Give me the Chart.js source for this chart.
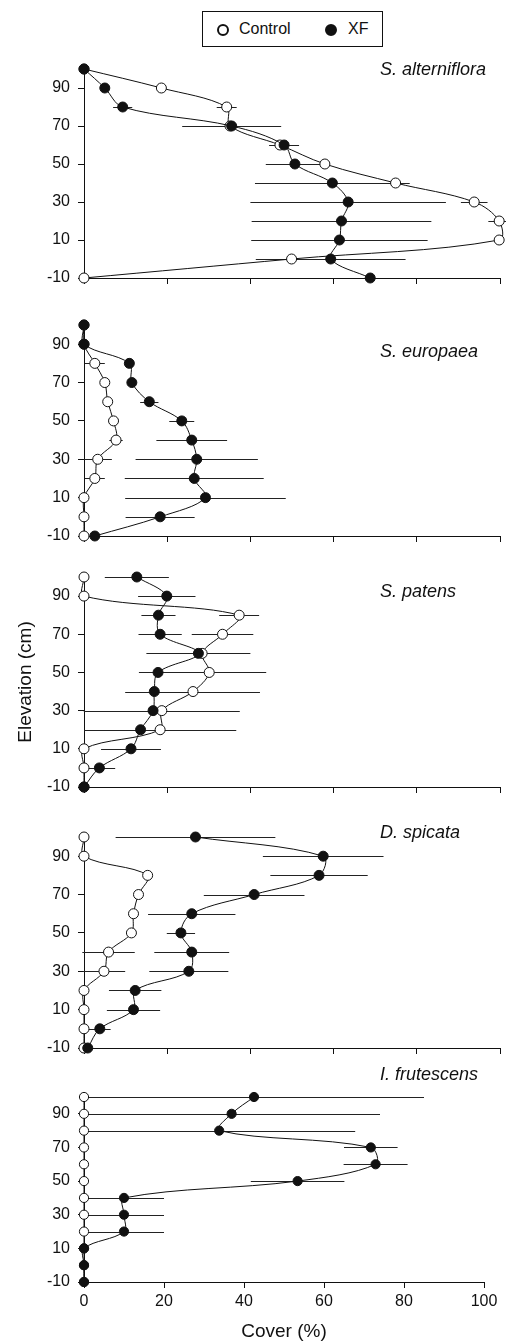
<!DOCTYPE html>
<html>
<head>
<meta charset="utf-8">
<title>Cover by elevation</title>
<script src="https://cdn.jsdelivr.net/npm/chart.js@4.4.1/dist/chart.umd.min.js"></script>
<style>
	html, body { margin: 0; padding: 0; background: #fff; }
	#fig { position: relative; width: 506px; height: 1343px; overflow: hidden;
		font-family: 'Liberation Sans', Arial, Helvetica, sans-serif; color: #111; }
	#fig canvas { position: absolute; left: 0; }
	.legend { position: absolute; left: 202px; top: 11px; width: 181px; height: 36px;
		border: 1px solid #111; box-sizing: border-box; font-size: 16px; }
	.legend .mk { position: absolute; top: 12px; width: 12px; height: 12px; box-sizing: border-box;
		border: 2px solid #111; border-radius: 50%; }
	.legend .open { background: #fff; }
	.legend .fill { background: #111; }
	.legend .lbl { position: absolute; top: 8px; line-height: 18px; white-space: nowrap; }
</style>
</head>
<body>
<div id="fig">
	<div class="legend">
		<span class="mk open" style="left:14px"></span><span class="lbl" style="left:36px">Control</span>
		<span class="mk fill" style="left:122px"></span><span class="lbl" style="left:145px">XF</span>
	</div>
</div>
<script>
'use strict';

// elevation levels, top to bottom
const elevations = [100, 90, 80, 70, 60, 50, 40, 30, 20, 10, 0, -10];
const yTicks = [-10, 10, 30, 50, 70, 90];
const xTicks = [0, 20, 40, 60, 80, 100];
const species = ['S. alterniflora', 'S. europaea', 'S. patens', 'D. spicata', 'I. frutescens'];

// mean cover (%) and SE at each elevation
const altControl   = [0, 18.6, 34.3, 35.1, 47.1, 57.9, 74.9, 93.8, 99.8, 99.8, 49.9, 0];
const altControlSE = [0, 0, 2.4, 0, 0, 0, 0, 3.2, 2.6, 0, 0, 0];
const altXF        = [0, 5.0, 9.3, 35.5, 48.1, 50.7, 59.7, 63.5, 61.9, 61.4, 59.3, 68.8];
const altXFSE      = [0, 0, 2.3, 11.9, 3.6, 7.0, 18.6, 23.5, 21.6, 21.2, 18.0, 0];

const eurControl   = [0, 0, 2.6, 5.0, 5.7, 7.1, 7.7, 3.3, 2.6, 0, 0, 0];
const eurControlSE = [0, 0, 2.4, 0, 0, 0, 1.6, 3.4, 2.4, 0, 0, 0];
const eurXF        = [0, 0, 10.9, 11.5, 15.7, 23.5, 25.9, 27.1, 26.5, 29.2, 18.3, 2.6];
const eurXFSE      = [0, 0, 0, 0, 2.2, 3.0, 8.5, 14.7, 16.7, 19.3, 8.3, 0];

const patControl   = [0, 0, 37.3, 33.3, 28.4, 30.1, 26.2, 18.7, 18.3, 0, 0, 0];
const patControlSE = [0, 0, 4.8, 7.4, 10.0, 13.7, 16.1, 18.75, 18.3, 0, 0, 0];
const patXF        = [12.7, 19.9, 17.9, 18.3, 27.5, 17.8, 16.9, 16.6, 13.6, 11.3, 3.7, 0];
const patXFSE      = [7.7, 6.9, 4.1, 5.2, 12.5, 4.6, 7.0, 6.6, 6.0, 7.2, 3.8, 0];

const spiControl   = [0, 0, 15.3, 13.1, 11.9, 11.4, 5.9, 4.8, 0, 0, 0, 0];
const spiControlSE = [0, 0, 0, 0, 0, 1.1, 6.3, 5.1, 0, 0, 0, 0];
const spiXF        = [26.8, 57.5, 56.5, 40.9, 25.9, 23.3, 25.9, 25.2, 12.3, 11.9, 3.8, 0.9];
const spiXFSE      = [19.2, 14.5, 11.7, 12.1, 10.5, 3.4, 9.0, 9.5, 6.3, 6.4, 2.6, 0];

const fruControl   = [0, 0, 0, 0, 0, 0, 0, 0, 0, 0, 0, 0];
const fruControlSE = [0, 0, 0, 0, 0, 0, 0, 0, 0, 0, 0, 0];
const fruXF        = [42.5, 36.9, 33.8, 71.7, 72.9, 53.4, 10, 10, 10, 0, 0, 0];
const fruXFSE      = [42.5, 37.1, 34.0, 6.7, 8.0, 11.7, 10, 10, 10, 0, 0, 0];

const family = "'Liberation Sans', Arial, Helvetica, sans-serif";
const ink = '#111';
Chart.defaults.font.family = family;
Chart.defaults.color = ink;

// horizontal SE whiskers, drawn under the lines and markers
const errorBars = {
	id: 'errorBars',
	beforeDatasetsDraw(chart) {
		const {ctx, scales: {x, y}} = chart;
		ctx.save();
		ctx.strokeStyle = '#222';
		ctx.lineWidth = 1;
		chart.data.datasets.forEach(function(ds) {
			ds.data.forEach(function(p, i) {
				const e = ds.errors[i];
				if (!e) return;
				const py = Math.round(y.getPixelForValue(p.y)) + 0.5;
				ctx.beginPath();
				ctx.moveTo(x.getPixelForValue(p.x - e), py);
				ctx.lineTo(x.getPixelForValue(p.x + e), py);
				ctx.stroke();
			});
		});
		ctx.restore();
	}
};

// italic species name in the upper right of each panel
const speciesLabel = {
	id: 'speciesLabel',
	afterDraw(chart, args, opts) {
		const {ctx, chartArea} = chart;
		ctx.save();
		ctx.font = 'italic 18px ' + family;
		ctx.fillStyle = ink;
		ctx.textBaseline = 'middle';
		ctx.fillText(opts.text, chartArea.left + opts.dx, chartArea.top + opts.dy);
		ctx.restore();
	}
};

function toPoints(values) {
	return values.map(function(v, i) { return {x: v, y: elevations[i]}; });
}

const panels = [
	{name: species[0], control: altControl, controlSE: altControlSE, xf: altXF, xfSE: altXFSE,
		top: 53, padTop: 16, plotH: 209, axisH: 20, padRight: 6, labelDy: 1, r: 5},
	{name: species[1], control: eurControl, controlSE: eurControlSE, xf: eurXF, xfSE: eurXFSE,
		top: 309, padTop: 16, plotH: 211, axisH: 20, padRight: 6, labelDy: 27, r: 5},
	{name: species[2], control: patControl, controlSE: patControlSE, xf: patXF, xfSE: patXFSE,
		top: 561, padTop: 16, plotH: 210, axisH: 20, padRight: 6, labelDy: 15, r: 5, yTitle: true},
	{name: species[3], control: spiControl, controlSE: spiControlSE, xf: spiXF, xfSE: spiXFSE,
		top: 821, padTop: 16, plotH: 211, axisH: 20, padRight: 6, labelDy: -4, r: 5},
	{name: species[4], control: fruControl, controlSE: fruControlSE, xf: fruXF, xfSE: fruXFSE,
		top: 1061, padTop: 36, plotH: 185, axisH: 61, padRight: 22, labelDy: -22, r: 4.6, xLabels: true}
];

const fig = document.getElementById('fig');

panels.forEach(function(p) {
	const canvas = document.createElement('canvas');
	canvas.width = 506;
	canvas.height = p.padTop + p.plotH + p.axisH;
	canvas.style.top = p.top + 'px';
	fig.appendChild(canvas);

	new Chart(canvas, {
		type: 'scatter',
		data: {
			datasets: [{
				label: 'XF',
				data: toPoints(p.xf),
				errors: p.xfSE,
				order: 0,
				showLine: true,
				tension: 0.35,
				clip: false,
				borderColor: ink,
				borderWidth: 1,
				pointRadius: p.r,
				pointBorderWidth: 1,
				pointBorderColor: ink,
				pointBackgroundColor: ink
			}, {
				label: 'Control',
				data: toPoints(p.control),
				errors: p.controlSE,
				order: 1,
				showLine: true,
				tension: 0.35,
				clip: false,
				borderColor: ink,
				borderWidth: 1,
				pointRadius: p.r,
				pointBorderWidth: 1,
				pointBorderColor: ink,
				pointBackgroundColor: '#fff'
			}]
		},
		plugins: [errorBars, speciesLabel],
		options: {
			responsive: false,
			animation: false,
			events: [],
			layout: {padding: {left: 0, right: p.padRight, top: p.padTop, bottom: 0}},
			elements: {line: {capBezierPoints: false}},
			plugins: {
				legend: {display: false},
				tooltip: {enabled: false},
				speciesLabel: {text: p.name, dx: 296, dy: p.labelDy}
			},
			scales: {
				x: {
					type: 'linear',
					min: 0,
					max: 100,
					afterBuildTicks: function(s) { s.ticks = xTicks.map(function(v) { return {value: v}; }); },
					afterFit: function(s) { s.height = p.axisH; s.paddingLeft = 0; s.paddingRight = 0; },
					grid: {drawOnChartArea: false, drawTicks: true, tickLength: 6, color: ink},
					border: {color: ink, width: 1},
					ticks: {display: !!p.xLabels, padding: 4, maxRotation: 0, autoSkip: false, font: {size: 16}},
					title: {display: !!p.xLabels, text: 'Cover (%)', font: {size: 19}, padding: {top: 0, bottom: 0}}
				},
				y: {
					type: 'linear',
					min: -10,
					max: 100,
					afterBuildTicks: function(s) { s.ticks = yTicks.map(function(v) { return {value: v}; }); },
					afterFit: function(s) { s.width = 84; s.paddingTop = 0; s.paddingBottom = 0; },
					grid: {drawOnChartArea: false, drawTicks: true, tickLength: 6, color: ink},
					border: {color: ink, width: 1},
					ticks: {padding: 8, autoSkip: false, font: {size: 16}},
					title: {display: !!p.yTitle, text: 'Elevation (cm)', font: {size: 19}, padding: {top: 14, bottom: 0}}
				}
			}
		}
	});
});
</script>
</body>
</html>
